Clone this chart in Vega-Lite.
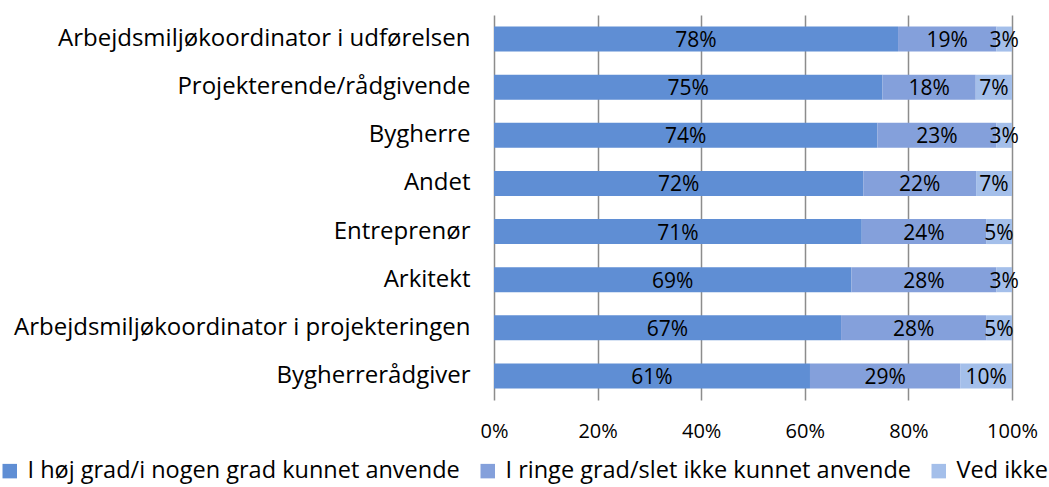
{
  "$schema": "https://vega.github.io/schema/vega-lite/v6.json",
  "width": 518,
  "height": 385,
  "autosize": {"type": "none"},
  "padding": {"left": 494, "top": 15, "right": 37, "bottom": 87},
  "config": {
    "font": "Open Sans",
    "view": {"stroke": null},
    "axis": {"labelColor": "#000000", "labelFont": "Open Sans"},
    "legend": {"labelFont": "Open Sans", "padding": 0}
  },
  "data": {
    "values": [
      {"cat": "Arbejdsmiljøkoordinator i udførelsen", "resp": "I høj grad/i nogen grad kunnet anvende", "o": 1, "v": 0.78},
      {"cat": "Arbejdsmiljøkoordinator i udførelsen", "resp": "I ringe grad/slet ikke kunnet anvende", "o": 2, "v": 0.19},
      {"cat": "Arbejdsmiljøkoordinator i udførelsen", "resp": "Ved ikke", "o": 3, "v": 0.03},
      {"cat": "Projekterende/rådgivende", "resp": "I høj grad/i nogen grad kunnet anvende", "o": 1, "v": 0.75},
      {"cat": "Projekterende/rådgivende", "resp": "I ringe grad/slet ikke kunnet anvende", "o": 2, "v": 0.18},
      {"cat": "Projekterende/rådgivende", "resp": "Ved ikke", "o": 3, "v": 0.07},
      {"cat": "Bygherre", "resp": "I høj grad/i nogen grad kunnet anvende", "o": 1, "v": 0.74},
      {"cat": "Bygherre", "resp": "I ringe grad/slet ikke kunnet anvende", "o": 2, "v": 0.23},
      {"cat": "Bygherre", "resp": "Ved ikke", "o": 3, "v": 0.03},
      {"cat": "Andet", "resp": "I høj grad/i nogen grad kunnet anvende", "o": 1, "v": 0.72},
      {"cat": "Andet", "resp": "I ringe grad/slet ikke kunnet anvende", "o": 2, "v": 0.22},
      {"cat": "Andet", "resp": "Ved ikke", "o": 3, "v": 0.07},
      {"cat": "Entreprenør", "resp": "I høj grad/i nogen grad kunnet anvende", "o": 1, "v": 0.71},
      {"cat": "Entreprenør", "resp": "I ringe grad/slet ikke kunnet anvende", "o": 2, "v": 0.24},
      {"cat": "Entreprenør", "resp": "Ved ikke", "o": 3, "v": 0.05},
      {"cat": "Arkitekt", "resp": "I høj grad/i nogen grad kunnet anvende", "o": 1, "v": 0.69},
      {"cat": "Arkitekt", "resp": "I ringe grad/slet ikke kunnet anvende", "o": 2, "v": 0.28},
      {"cat": "Arkitekt", "resp": "Ved ikke", "o": 3, "v": 0.03},
      {"cat": "Arbejdsmiljøkoordinator i projekteringen", "resp": "I høj grad/i nogen grad kunnet anvende", "o": 1, "v": 0.67},
      {"cat": "Arbejdsmiljøkoordinator i projekteringen", "resp": "I ringe grad/slet ikke kunnet anvende", "o": 2, "v": 0.28},
      {"cat": "Arbejdsmiljøkoordinator i projekteringen", "resp": "Ved ikke", "o": 3, "v": 0.05},
      {"cat": "Bygherrerådgiver", "resp": "I høj grad/i nogen grad kunnet anvende", "o": 1, "v": 0.61},
      {"cat": "Bygherrerådgiver", "resp": "I ringe grad/slet ikke kunnet anvende", "o": 2, "v": 0.29},
      {"cat": "Bygherrerådgiver", "resp": "Ved ikke", "o": 3, "v": 0.10}
    ]
  },
  "transform": [
    {"stack": "v", "groupby": ["cat"], "sort": [{"field": "o", "order": "ascending"}], "as": ["v0", "v1"], "offset": "normalize"},
    {"calculate": "(datum.v0 + datum.v1) / 2", "as": "mid"}
  ],
  "encoding": {
    "y": {
      "field": "cat", "type": "nominal", "sort": null, "title": null,
      "scale": {"paddingInner": 0.48, "paddingOuter": 0.24},
      "axis": {"domain": false, "ticks": false, "labelFontSize": 24, "labelPadding": 24, "labelLimit": 500}
    }
  },
  "layer": [
    {
      "mark": {"type": "bar"},
      "encoding": {
        "x": {
          "field": "v0", "type": "quantitative", "title": null,
          "scale": {"domain": [0, 1], "nice": false},
          "axis": {"format": ".0%", "values": [0, 0.2, 0.4, 0.6, 0.8, 1], "domain": false, "ticks": false, "grid": true, "gridColor": "#8c8c8c", "gridWidth": 1.5, "labelFontSize": 20, "labelPadding": 21, "labelFlush": false}
        },
        "x2": {"field": "v1"},
        "color": {
          "field": "resp", "type": "nominal", "title": null,
          "scale": {
            "domain": ["I høj grad/i nogen grad kunnet anvende", "I ringe grad/slet ikke kunnet anvende", "Ved ikke"],
            "range": ["#5f8ed4", "#84a0db", "#a4bfea"]
          },
          "legend": {
            "orient": "none", "legendX": -496, "legendY": 444, "direction": "horizontal",
            "symbolType": "square", "symbolSize": 210, "symbolStrokeWidth": 0, "symbolOpacity": 1,
            "labelFontSize": 23.5, "labelColor": "#000000", "labelLimit": 700, "columnPadding": 16, "labelOffset": 6
          }
        },
        "order": {"field": "o"}
      }
    },
    {
      "mark": {"type": "text", "fontSize": 21, "color": "#000000", "baseline": "middle", "align": "center", "dy": 2},
      "encoding": {
        "x": {"field": "mid", "type": "quantitative"},
        "text": {"field": "v", "type": "quantitative", "format": ".0%"}
      }
    }
  ]
}
